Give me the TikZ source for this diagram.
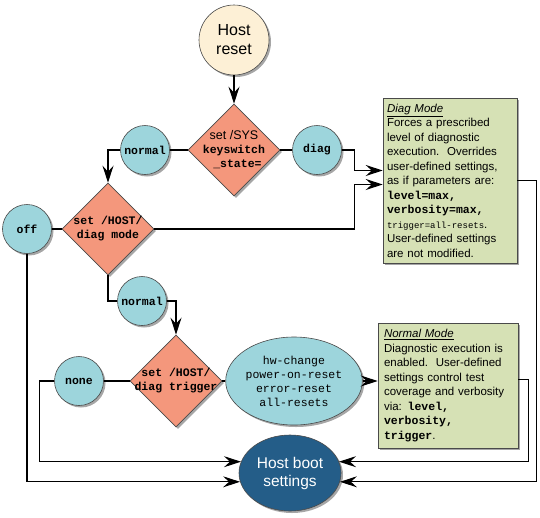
\documentclass[tikz,border=0pt]{standalone}
\usepackage{fontspec}
\setmainfont{Liberation Sans}
\setmonofont{Liberation Mono}
\usetikzlibrary{arrows.meta, shapes.geometric, shadows}
\definecolor{resetfill}{HTML}{FDF0D6}
\definecolor{testfill}{HTML}{F4977C}
\definecolor{choicefill}{HTML}{9DD5DC}
\definecolor{bootfill}{HTML}{245D88}
\definecolor{notefill}{HTML}{D6E1B5}
\definecolor{rim}{HTML}{4A4A4A}

\begin{document}
\begin{tikzpicture}[x=1pt,y=-1pt,line width=1.1pt,
  flow/.style={-{Stealth[length=17pt,width=11pt,inset=6pt]}},
  shade/.style={drop shadow={shadow xshift=2pt,shadow yshift=-2pt,opacity=.35,fill=black}},
  start node/.style={circle,fill=resetfill,draw=rim,line width=0.6pt,shade,
    minimum size=70pt,inner sep=0pt,align=center,font=\fontsize{16}{19}\selectfont},
  test node/.style={diamond,fill=testfill,draw=rim,line width=0.6pt,shade,
    minimum size=92pt,inner sep=-5pt,align=center,font=\fontsize{11.5}{14}\selectfont\ttfamily\bfseries},
  choice node/.style={circle,fill=choicefill,draw=rim,line width=0.6pt,shade,
    minimum size=49pt,inner sep=0pt,font=\fontsize{11.5}{14}\selectfont\ttfamily\bfseries},
  end node/.style={ellipse,fill=bootfill,draw=rim,line width=0.6pt,shade,text=white,
    minimum width=102pt,minimum height=76pt,inner sep=0pt,align=center,font=\fontsize{15.5}{18}\selectfont},
  note node/.style={rectangle,fill=notefill,draw=rim,line width=0.6pt,shade,
    inner sep=0pt,align=left,font=\fontsize{11.5}{14.5}\selectfont}]
  \useasboundingbox (0,0) rectangle (540,517);

  \node[start node] (hostreset) at (234,40) {Host\\reset};
  \node[test node, node distance=110pt, below of=hostreset] (keyswitch)
    {{\normalfont\fontsize{12.5}{14}\selectfont set /SYS}\\keyswitch\\\ \_state=};
  \node[choice node, node distance=89pt, left of=keyswitch] (normal1) {normal};
  \node[choice node, node distance=83pt, right of=keyswitch] (diag) {diag};
  \node[test node] (diagmode) at (108,229) {set /HOST/\\diag mode};
  \node[choice node, node distance=81pt, left of=diagmode] (off) {off};
  \node[choice node] (normal2) at (142,301) {normal};
  \node[test node] (diagtrigger) at (176,381) {set /HOST/\\diag trigger};
  \node[choice node, node distance=97pt, left of=diagtrigger] (none) {none};
  \node[ellipse,fill=choicefill,draw=rim,line width=0.6pt,shade,minimum width=114pt,
    minimum height=88pt,inner sep=0pt,align=center,font=\fontsize{11.5}{14}\selectfont\ttfamily,
    node distance=118pt, right of=diagtrigger] (resets)
    {hw-change\\power-on-reset\\error-reset\\all-resets};
  \node[end node] (bootsettings) at (290,473) {Host boot\\settings};

  \node[note node, minimum width=134pt, minimum height=165pt, text width=126pt] (diagnote) at (450,180.5)
    {\underline{\textit{Diag Mode}}\\
     Forces a prescribed\\
     level of diagnostic\\
     execution.\ \ Overrides\\
     user-defined settings,\\
     as if parameters are:\\
     {\ttfamily\bfseries level=max,}\\
     {\ttfamily\bfseries verbosity=max,}\\
     {\ttfamily\fontsize{9}{14.5}\selectfont trigger=all-resets}.\\
     User-defined settings\\
     are not modified.};
  \node[note node, minimum width=140pt, minimum height=125pt, text width=128pt] (normalnote) at (448,385.5)
    {\underline{\textit{Normal Mode}}\\
     Diagnostic execution is\\
     enabled.\ \ User-defined\\
     settings control test\\
     coverage and verbosity\\
     via: {\ttfamily\bfseries level,}\\
     {\ttfamily\bfseries verbosity,}\\
     {\ttfamily\bfseries trigger}.};

  % top decision
  \draw[flow] (hostreset) -- (keyswitch);
  \draw (keyswitch) -- (normal1);
  \draw (keyswitch) -- (diag);
  \draw[flow] (normal1.west) -| (diagmode.north);
  \draw[flow] (diag.east) -- ++(13,0) |- ([yshift=10pt]diagnote.west);
  % diag mode
  \draw[flow] (diagmode.east) -- ++(200,0) |- ([yshift=-4pt]diagnote.west);
  \draw (diagmode) -- (off);
  \draw[flow] (off.south) |- (bootsettings.190);
  \draw (diagmode.south) |- (normal2.west);
  \draw[flow] (normal2.east) -| (diagtrigger.north);
  % diag trigger
  \draw (diagtrigger) -- (none);
  \draw[flow] (none.west) -- ++(-15,0) |- (bootsettings.167);
  \draw (diagtrigger) -- (resets);
  \draw[flow] (resets.east) -- (resets.east -| normalnote.west);
  % notes to boot settings
  \draw[flow] (diagnote.east) -- ++(19,0) |- (bootsettings.-10);
  \draw[flow] ([yshift=6pt]normalnote.east) -- ++(10,0) |- (bootsettings.13);
\end{tikzpicture}
\end{document}
